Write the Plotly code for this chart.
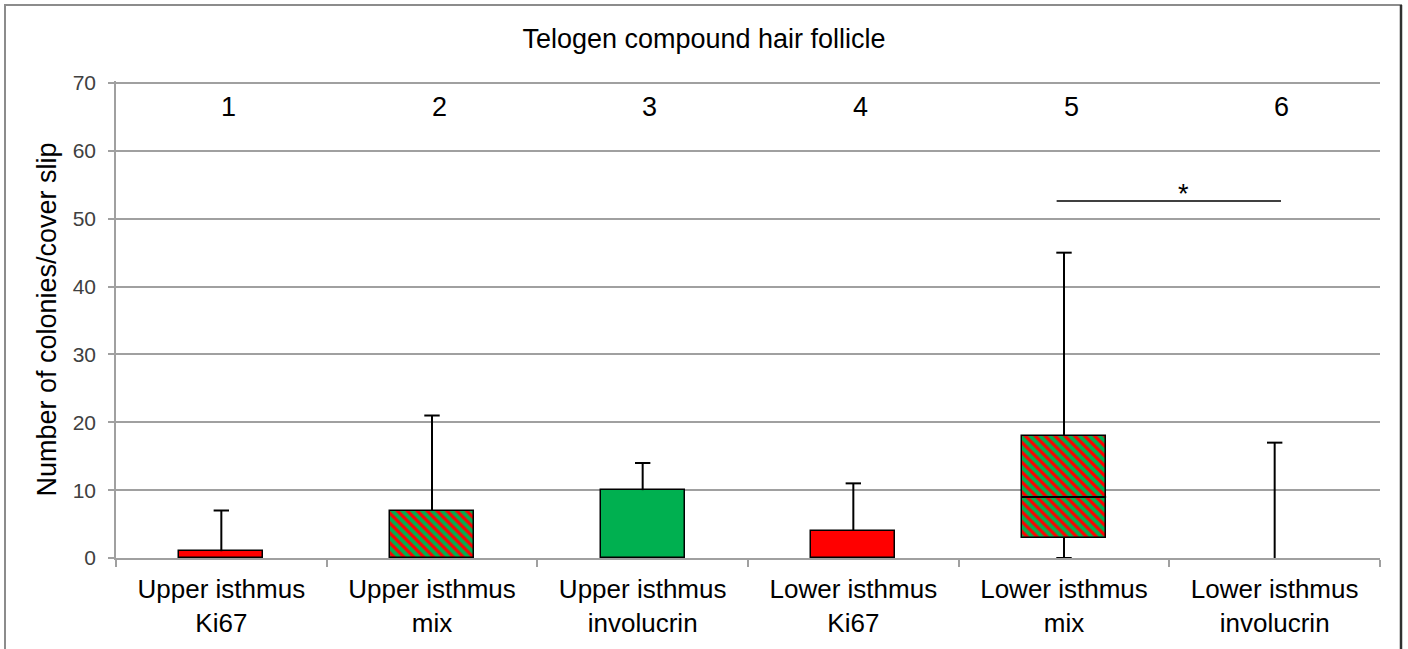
import plotly.graph_objects as go

# ---- data ----
categories = ["Upper isthmus<br>Ki67", "Upper isthmus<br>mix", "Upper isthmus<br>involucrin",
              "Lower isthmus<br>Ki67", "Lower isthmus<br>mix", "Lower isthmus<br>involucrin"]
group_numbers = ["1", "2", "3", "4", "5", "6"]
q1 = [0, 0, 0, 0, 3, 0]
median = [None, None, None, None, 9, None]
q3 = [1, 7, 10, 4, 18, 0]
whisker_min = [0, 0, 0, 0, 0, 0]
whisker_max = [7, 21, 14, 11, 45, 17]
fill_type = ["red", "mix", "green", "red", "mix", "none"]
y_ticks = [0, 10, 20, 30, 40, 50, 60, 70]
sig_pair = (4, 5)
sig_level = 52.6
sig_label = "*"
number_label_level = 66.5

RED = "#ff0000"
GREEN = "#00b050"
FONT = "Liberation Sans, Arial, sans-serif"
BOX_W = 0.4

pos = list(range(len(categories)))
fig = go.Figure()

# boxes (stacked-bar style), one trace per fill type
for ftype in ["red", "green", "mix"]:
    bx, bbase, bh = [], [], []
    for i in pos:
        if fill_type[i] == ftype and q3[i] > q1[i]:
            bx.append(i); bbase.append(q1[i]); bh.append(q3[i] - q1[i])
    if not bx:
        continue
    if ftype == "mix":
        marker = dict(color=RED, line=dict(color="black", width=1.5),
                      pattern=dict(shape="\\", fgcolor=RED, bgcolor=GREEN, size=7,
                                   solidity=0.45, fillmode="replace"))
    else:
        marker = dict(color=RED if ftype == "red" else GREEN, line=dict(color="black", width=1.5))
    fig.add_trace(go.Bar(x=bx, y=bh, base=bbase, width=BOX_W, marker=marker,
                         showlegend=False, hoverinfo="skip"))

# whiskers
wx, wy, cx, cy = [], [], [], []
for i in pos:
    wx += [i, i, None]; wy += [q3[i], whisker_max[i], None]
    cx.append(i); cy.append(whisker_max[i])
    if q1[i] > whisker_min[i]:
        wx += [i, i, None]; wy += [whisker_min[i], q1[i], None]
        cx.append(i); cy.append(whisker_min[i])
fig.add_trace(go.Scatter(x=wx, y=wy, mode="lines", line=dict(color="black", width=2),
                         showlegend=False, hoverinfo="skip", cliponaxis=False))
fig.add_trace(go.Scatter(x=cx, y=cy, mode="markers",
                         marker=dict(symbol="line-ew", size=11, line=dict(color="black", width=2)),
                         showlegend=False, hoverinfo="skip", cliponaxis=False))

# medians
mx, my = [], []
for i in pos:
    if median[i] is not None:
        mx += [i - BOX_W / 2, i + BOX_W / 2, None]; my += [median[i], median[i], None]
fig.add_trace(go.Scatter(x=mx, y=my, mode="lines", line=dict(color="black", width=2),
                         showlegend=False, hoverinfo="skip"))

# significance bar
a, b = sig_pair
fig.add_trace(go.Scatter(x=[a - 0.035, b + 0.03], y=[sig_level, sig_level], mode="lines",
                         line=dict(color="black", width=1.5), showlegend=False, hoverinfo="skip"))
fig.add_annotation(x=(a + b) / 2, y=sig_level, text=sig_label, showarrow=False,
                   xanchor="center", yanchor="bottom", xshift=14, yshift=-10,
                   font=dict(family=FONT, size=27, color="black"))

# group numbers
for i in pos:
    fig.add_annotation(x=i, y=number_label_level, text=group_numbers[i], showarrow=False,
                       xanchor="center", yanchor="middle", xshift=7,
                       font=dict(family=FONT, size=27, color="black"))

# dummy trace on label axis
fig.add_trace(go.Scatter(x=[pos[0]], y=[None], xaxis="x2", showlegend=False, hoverinfo="skip"))

boundaries = [p - 0.5 for p in pos] + [pos[-1] + 0.5]
rng = [pos[0] - 0.5, pos[-1] + 0.5]

fig.update_layout(
    width=1408, height=649,
    margin=dict(l=116, r=28, t=81, b=91, autoexpand=False),
    paper_bgcolor="white", plot_bgcolor="white",
    bargap=0,
    font=dict(family=FONT, color="black"),
    title=dict(text="Telogen compound hair follicle", x=0.5, xref="container", xanchor="center",
               y=1 - 39 / 649, yref="container", yanchor="middle",
               font=dict(family=FONT, size=27, color="black")),
    xaxis=dict(range=rng, tickvals=boundaries, ticks="outside", ticklen=7, tickwidth=1.5,
               tickcolor="#a0a0a0", showticklabels=False, showline=True, linecolor="#a0a0a0",
               linewidth=1.5, showgrid=False, zeroline=False, automargin=False),
    xaxis2=dict(range=rng, overlaying="x", side="bottom", anchor="y", tickvals=pos,
                ticktext=categories, ticks="", showline=False, showgrid=False, zeroline=False,
                tickfont=dict(family=FONT, size=26, color="black"), ticklabelstandoff=13,
                automargin=False),
    yaxis=dict(range=[0, 70.3], tickvals=y_ticks, ticks="outside",
               ticklen=6, tickwidth=1.5,
               tickcolor="#a0a0a0", showline=True, linecolor="#a0a0a0", linewidth=1.5,
               showgrid=True, gridcolor="#a0a0a0", gridwidth=1.5, zeroline=False,
               tickfont=dict(family=FONT, size=21, color="#404040"), ticklabelstandoff=8,
               automargin=False,
               title=dict(text="Number of colonies/cover slip", standoff=8,
                          font=dict(family=FONT, size=27, color="black"))),
)

# outer frame (figure border)
PH = 477.0
fig.add_shape(type="rect", xref="paper", yref="paper",
              x0=(5 - 116) / 1264, x1=(1401 - 116) / 1264,
              y0=(558 - 670) / PH, y1=(558 - 5) / PH,
              line=dict(color="#8c8c8c", width=2), layer="below")
fig.add_shape(type="line", xref="paper", yref="paper",
              x0=(1401 - 116) / 1264, x1=(1401 - 116) / 1264,
              y0=(558 - 670) / PH, y1=(558 - 5) / PH,
              line=dict(color="#303030", width=2.5))

fig.write_html("out.html", config={"displayModeBar": False},
               post_script="document.body.style.margin='0';document.body.style.overflow='hidden';")
